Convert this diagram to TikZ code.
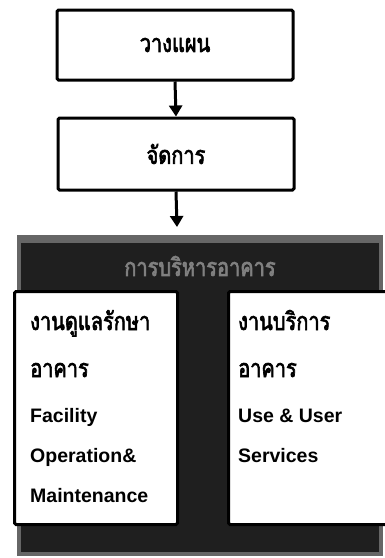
\documentclass[tikz,border=0pt]{standalone}
\usepackage{fontspec}
\setmainfont{Liberation Sans}
\newfontfamily\thaifont[Script=Thai, FakeBold=2.5, FakeStretch=0.8]{Loma}
\usetikzlibrary{arrows.meta}

\tikzset{
  stepbox/.style={draw, line width=3pt, rounded corners=1.5pt, fill=white, inner sep=0pt},
  flow/.style={line width=3pt, -{Triangle[width=13pt,length=11pt]}},
  thaitext/.style={font=\thaifont\fontsize{25}{28}\selectfont},
  linetext/.style={font=\bfseries\fontsize{19.5}{22}\selectfont, anchor=base west, inner sep=0pt},
}

\begin{document}
\begin{tikzpicture}[x=1pt,y=-1pt]
\clip (0,0) rectangle (385,558);
\fill[white] (0,0) rectangle (385,558);

% planning and managing
\node[stepbox, thaitext, minimum width=236pt, minimum height=70pt] (plan) at (175,45) {วางแผน};
\node[stepbox, thaitext, minimum width=236pt, minimum height=72pt] (manage) at (176,154) {จัดการ};
\coordinate (bandtop) at (177,227);
\draw[flow] (plan.south) -- (manage.north);
\draw[flow] (manage.south) -- (bandtop);

% dark band
\fill[black!60] (17,235) rectangle (383,556);
\fill[black!88] (21,243) rectangle (379,552);
\node[thaitext, text=black!50] (head) at (200,266) {การบริหารอาคาร};

% two boxes
\node[stepbox, minimum width=163pt, minimum height=233pt, anchor=north west] (care) at (13,290) {};
\node[stepbox, minimum width=175pt, minimum height=233pt, anchor=north west] (serv) at (227,290) {};

\foreach \y/\t [count=\i] in {330/งานดูแลรักษา, 377/อาคาร}
  \node[thaitext, anchor=base west, inner sep=0pt] (care-\i) at (30,\y) {\t};
\foreach \y/\t [count=\i from 3] in {422/Facility, 462/Operation\&, 502/Maintenance}
  \node[linetext] (care-\i) at (30,\y) {\t};

\foreach \y/\t [count=\i] in {330/งานบริการ, 377/อาคาร}
  \node[thaitext, anchor=base west, inner sep=0pt] (serv-\i) at (238,\y) {\t};
\foreach \y/\t [count=\i from 3] in {422/Use \& User, 462/Services}
  \node[linetext] (serv-\i) at (238,\y) {\t};
\end{tikzpicture}
\end{document}
